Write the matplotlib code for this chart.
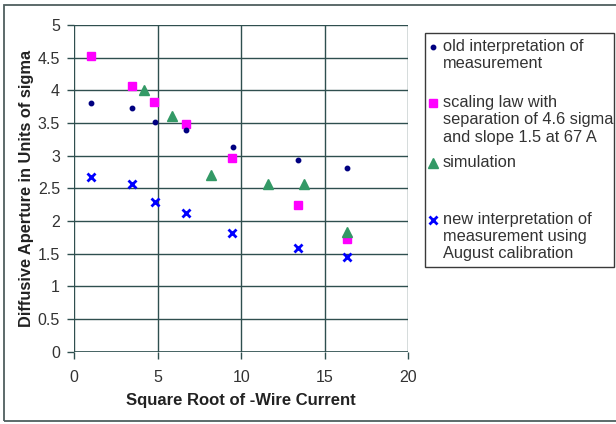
import matplotlib
matplotlib.use("Agg")
import matplotlib.pyplot as plt
from matplotlib.patches import Rectangle
from matplotlib.lines import Line2D

plt.rcParams['font.family'] = ['Liberation Sans', 'DejaVu Sans']

# old interpretation of measurement
x_old = [1.02, 3.49, 4.83, 6.70, 9.49, 13.42, 16.35]
y_old = [3.80, 3.73, 3.52, 3.40, 3.14, 2.94, 2.81]

# scaling law
x_scal = [1.02, 3.46, 4.80, 6.70, 9.46, 13.40, 16.33]
y_scal = [4.52, 4.07, 3.82, 3.48, 2.97, 2.25, 1.72]

# simulation
x_sim = [4.17, 5.86, 8.21, 11.60, 13.77, 16.35]
y_sim = [4.00, 3.61, 2.71, 2.56, 2.56, 1.83]

# new interpretation (August calibration)
x_new = [1.02, 3.46, 4.83, 6.70, 9.46, 13.42, 16.35]
y_new = [2.67, 2.57, 2.29, 2.12, 1.82, 1.59, 1.45]

labels = ["old interpretation of\nmeasurement",
          "scaling law with\nseparation of 4.6 sigma\nand slope 1.5 at 67 A",
          "simulation",
          "new interpretation of\nmeasurement using\nAugust calibration"]

W, H = 616, 424
fig = plt.figure(figsize=(W / 100, H / 100), dpi=100)
ax = fig.add_axes([74 / W, 1 - 351.7 / H, 334.3 / W, 326.7 / H])

grid_c = '#2f4f4f'
ax.set_xlim(0, 20)
ax.set_ylim(0, 5)
ax.set_xticks([0, 5, 10, 15, 20])
ax.set_yticks([0, 0.5, 1, 1.5, 2, 2.5, 3, 3.5, 4, 4.5, 5])
ax.set_yticklabels(['0', '0.5', '1', '1.5', '2', '2.5', '3', '3.5', '4', '4.5', '5'])
ax.grid(True, color=grid_c, lw=1.0)
ax.set_axisbelow(True)
for s in ax.spines.values():
    s.set_visible(False)
ax.tick_params(direction='out', length=5, width=1, color=grid_c,
               labelsize=11.5, labelcolor='#333333')
ax.tick_params(axis='x', pad=8)
ax.tick_params(axis='y', pad=5)
# axis lines at x=0 and y=0
ax.axvline(0, color=grid_c, lw=1.2, zorder=1)
ax.axhline(0, color=grid_c, lw=1.2, zorder=1)

st_old = dict(marker='o', color='#000080', ms=3.2, ls='none')
st_scal = dict(marker='s', color='#ff00ff', ms=6.4, ls='none')
st_sim = dict(marker='^', color='#339966', ms=7.2, ls='none')
st_new = dict(marker='x', color='#0000ff', ms=5.5, mew=2, ls='none')

ax.plot(x_old, y_old, **st_old, zorder=5)
ax.plot(x_scal, y_scal, **st_scal, zorder=3)
ax.plot(x_sim, y_sim, **st_sim, zorder=4)
ax.plot(x_new, y_new, **st_new, zorder=4)

ax.set_xlabel("Square Root of -Wire Current", fontsize=12, fontweight='bold',
              color='#222222', labelpad=6)
ax.set_ylabel("Diffusive Aperture in Units of sigma", fontsize=11.8,
              fontweight='bold', color='#222222', labelpad=3)

# outer chart frame
fig.add_artist(Rectangle((4 / W, 1 - 421 / H), 1.0, 416 / H,
                         transform=fig.transFigure, fill=False,
                         ec='#4f5f5f', lw=1.3))

# legend box, drawn by hand to keep the uneven spacing
fig.add_artist(Rectangle((425 / W, 1 - 267.3 / H), 189 / W, 234.6 / H,
                         transform=fig.transFigure, fill=False,
                         ec='#3a3a3a', lw=1.0))
rows = [46.7, 103.3, 162.7, 220.0]
for lab, st, yy in zip(labels, [st_old, st_scal, st_sim, st_new], rows):
    fig.add_artist(Line2D([433 / W], [1 - yy / H], transform=fig.transFigure,
                          **st))
    fig.text(443 / W, 1 - (yy - 8) / H, lab, fontsize=11.8, va='top',
             ha='left', color='#333333', linespacing=1.18)

fig.savefig("out.png", dpi=100)
